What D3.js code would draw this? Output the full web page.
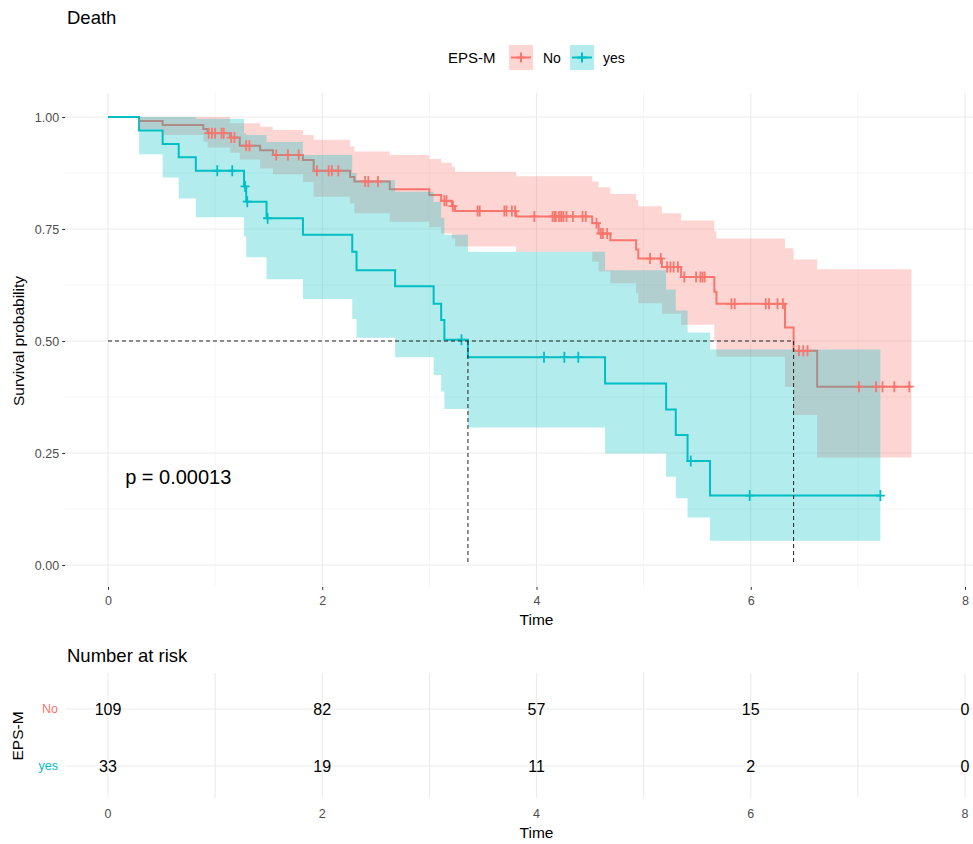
<!DOCTYPE html>
<html>
<head>
<meta charset="utf-8">
<style>
  body { margin: 0; background: #fff; }
  svg { display: block; font-family: 'Liberation Sans', Arial, sans-serif; }
  .grid-major { stroke: #ebebeb; stroke-width: 1.1px; }
  .grid-minor { stroke: #f0f0f0; stroke-width: 0.7px; }
  .axis .domain { display: none; }
  .axis .tick line { stroke: #333; }
  .axis .tick text { fill: #4d4d4d; font-size: 12.5px; font-family: 'Liberation Sans', Arial, sans-serif; }
</style>
</head>
<body>
<svg width="973" height="844"></svg>
<script src="https://d3js.org/d3.v7.min.js"></script>
<script>
// ---- data ----
const groups = ["No", "yes"];
const colors = ["#F8766D", "#00BFC4"];

const noTime  = [0, 0.29, 0.51, 0.89, 0.93, 1.14, 1.23, 1.42, 1.54, 1.82, 1.92, 2.26, 2.30, 2.63, 3.00, 3.11, 3.21, 3.24, 3.81, 4.52, 4.58, 4.69, 4.93, 4.95, 5.17, 5.35, 5.66, 5.68, 6.32, 6.40, 6.62, 7.50];
const noSurv  = [1, 0.991, 0.982, 0.973, 0.964, 0.954, 0.936, 0.926, 0.915, 0.904, 0.880, 0.866, 0.856, 0.839, 0.826, 0.813, 0.801, 0.790, 0.778, 0.763, 0.740, 0.725, 0.704, 0.684, 0.665, 0.643, 0.610, 0.583, 0.530, 0.478, 0.398, 0.398];
const noUpper = [1, 1, 1, 1, 1, 0.986, 0.986, 0.978, 0.971, 0.960, 0.949, 0.934, 0.923, 0.915, 0.906, 0.898, 0.889, 0.878, 0.868, 0.856, 0.843, 0.828, 0.815, 0.801, 0.785, 0.769, 0.745, 0.729, 0.707, 0.682, 0.660, 0.660];
const noLower = [1, 0.973, 0.960, 0.945, 0.932, 0.920, 0.905, 0.885, 0.872, 0.855, 0.822, 0.807, 0.785, 0.766, 0.754, 0.740, 0.729, 0.711, 0.699, 0.677, 0.655, 0.629, 0.606, 0.584, 0.561, 0.536, 0.500, 0.465, 0.398, 0.335, 0.240, 0.240];
const noCensor = [0.94, 0.97, 1.00, 1.06, 1.08, 1.15, 1.18, 1.29, 1.32, 1.57, 1.68, 1.78, 1.95, 2.06, 2.09, 2.15, 2.40, 2.43, 2.52, 3.14, 3.16, 3.22, 3.45, 3.47, 3.70, 3.72, 3.77, 3.80, 3.98, 4.15, 4.17, 4.18, 4.21, 4.23, 4.25, 4.28, 4.34, 4.43, 4.46, 4.56, 4.60, 4.62, 4.66, 5.06, 5.16, 5.22, 5.25, 5.28, 5.32, 5.38, 5.49, 5.53, 5.55, 5.57, 5.82, 5.85, 6.14, 6.17, 6.25, 6.30, 6.45, 6.49, 6.53, 7.01, 7.17, 7.23, 7.34, 7.48];

const yesTime  = [0, 0.29, 0.51, 0.66, 0.82, 1.27, 1.29, 1.48, 1.82, 2.28, 2.32, 2.68, 3.04, 3.11, 3.14, 3.36, 4.64, 5.21, 5.30, 5.41, 5.62, 7.21];
const yesSurv  = [1, 0.970, 0.940, 0.910, 0.880, 0.845, 0.811, 0.774, 0.737, 0.699, 0.658, 0.622, 0.583, 0.547, 0.503, 0.464, 0.405, 0.347, 0.290, 0.232, 0.155, 0.155];
const yesUpper = [1, 1, 1, 1, 0.996, 0.964, 0.960, 0.944, 0.915, 0.875, 0.859, 0.833, 0.810, 0.775, 0.737, 0.699, 0.658, 0.615, 0.568, 0.519, 0.481, 0.481];
const yesLower = [1, 0.917, 0.865, 0.818, 0.776, 0.733, 0.687, 0.638, 0.594, 0.549, 0.507, 0.464, 0.424, 0.387, 0.348, 0.307, 0.249, 0.197, 0.149, 0.106, 0.054, 0.054];
const yesCensor = [1.02, 1.16, 1.28, 1.30, 1.49, 3.30, 4.07, 4.26, 4.39, 5.44, 5.99, 7.21];

const medians = [3.36, 6.40];
const pLabel = "p = 0.00013";
const pPos = [0.16, 0.196];

const xTicks = [0, 2, 4, 6, 8];
const xMinor = [1, 3, 5, 7];
const yTicks = [0, 0.25, 0.5, 0.75, 1];
const yMinor = [0.125, 0.375, 0.625, 0.875];

const riskTimes = [0, 2, 4, 6, 8];
const riskNo  = [109, 82, 57, 15, 0];
const riskYes = [33, 19, 11, 2, 0];

// ---- scales ----
let svg = d3.select("svg");
let W = 973;

let x = d3.scaleLinear().domain([0, 8]).range([108, 965]);
let y = d3.scaleLinear().domain([0, 1]).range([565, 117]);
let panelLeft = x(-0.4), panelTop = y(1.054), panelBottom = y(-0.049);

// title
svg.append("text").attr("x", 67).attr("y", 24).text("Death")
    .style("font-size", "18.5px").style("fill", "#000");

// legend
let legend = svg.append("g");
legend.append("text").attr("x", 448).attr("y", 63).text("EPS-M").style("font-size", "15px").style("fill", "#000");
let keyX = [509, 570];
let keyLab = [543, 603];
groups.forEach(function (g, i) {
    let k = legend.append("g").attr("transform", `translate(${keyX[i]},45)`);
    k.append("rect").attr("width", 24).attr("height", 25).style("fill", colors[i]).style("opacity", 0.3);
    k.append("line").attr("x1", 2).attr("x2", 22).attr("y1", 12.5).attr("y2", 12.5).style("stroke", colors[i]).style("stroke-width", 2);
    k.append("path").attr("d", "M7.5,12.5H16.5M12,7.5V17.5").style("stroke", colors[i]).style("stroke-width", 2);
    legend.append("text").attr("x", keyLab[i]).attr("y", 63).text(g).style("font-size", "14px").style("fill", "#000");
});

// grid
let grid = svg.append("g");
grid.selectAll(".ymin").data(yMinor).join("line").attr("class", "grid-minor")
    .attr("x1", panelLeft).attr("x2", W).attr("y1", d => y(d)).attr("y2", d => y(d));
grid.selectAll(".xmin").data(xMinor).join("line").attr("class", "grid-minor")
    .attr("x1", d => x(d)).attr("x2", d => x(d)).attr("y1", panelTop).attr("y2", panelBottom);
grid.selectAll(".ymaj").data(yTicks).join("line").attr("class", "grid-major")
    .attr("x1", panelLeft).attr("x2", W).attr("y1", d => y(d)).attr("y2", d => y(d));
grid.selectAll(".xmaj").data(xTicks).join("line").attr("class", "grid-major")
    .attr("x1", d => x(d)).attr("x2", d => x(d)).attr("y1", panelTop).attr("y2", panelBottom);

// curves
let curves = [
    { time: noTime, surv: noSurv, up: noUpper, lo: noLower, cens: noCensor },
    { time: yesTime, surv: yesSurv, up: yesUpper, lo: yesLower, cens: yesCensor }
];
curves.forEach(c => { c.pts = c.time.map((t, i) => ({ t: t, s: c.surv[i], hi: c.up[i], lo: c.lo[i] })); });

let line = d3.line().curve(d3.curveStepAfter).x(d => x(d.t)).y(d => y(d.s));
let band = d3.area().curve(d3.curveStepAfter).x(d => x(d.t)).y0(d => y(d.lo)).y1(d => y(d.hi));

svg.append("g").selectAll("path").data(curves).join("path")
    .attr("d", d => line(d.pts))
    .style("fill", "none")
    .style("stroke", (d, i) => colors[i])
    .style("stroke-width", 2);

svg.append("g").selectAll("path").data(curves).join("path")
    .attr("d", d => band(d.pts))
    .style("fill", (d, i) => colors[i])
    .style("opacity", 0.3);

// censor marks
curves.forEach(function (c, i) {
    svg.append("g").selectAll("path").data(c.cens).join("path")
        .attr("d", function (t) {
            let s = c.surv[d3.bisectRight(c.time, t) - 1];
            let px = x(t), py = y(s);
            return `M${px - 4.5},${py}H${px + 4.5}M${px},${py - 5.5}V${py + 5.5}`;
        })
        .style("stroke", colors[i])
        .style("stroke-width", 1.8)
        .style("fill", "none");
});

// median lines
let med = svg.append("g").style("stroke", "#222").style("stroke-width", 1).style("stroke-dasharray", "4,3");
med.append("line").attr("x1", x(0)).attr("x2", x(d3.max(medians))).attr("y1", y(0.5)).attr("y2", y(0.5));
med.selectAll(".v").data(medians).join("line")
    .attr("x1", d => x(d)).attr("x2", d => x(d)).attr("y1", y(0.5)).attr("y2", y(0));

// p value
svg.append("text").attr("x", x(pPos[0])).attr("y", y(pPos[1])).attr("dy", "0.35em")
    .text(pLabel).style("font-size", "20px").style("fill", "#000");

// axes
svg.append("g").attr("class", "axis").attr("transform", `translate(${panelLeft},0)`)
    .call(d3.axisLeft(y).tickValues(yTicks).tickFormat(d3.format(".2f")).tickSize(3).tickPadding(3));
svg.append("g").attr("class", "axis").attr("transform", `translate(0,${panelBottom})`)
    .call(d3.axisBottom(x).tickValues(xTicks).tickSize(3).tickPadding(6));

svg.append("text").attr("x", x(4)).attr("y", 625).attr("text-anchor", "middle")
    .text("Time").style("font-size", "15.5px").style("fill", "#000");
svg.append("text").attr("transform", "translate(24,341) rotate(-90)").attr("text-anchor", "middle")
    .text("Survival probability").style("font-size", "15.5px").style("fill", "#000");

// ---- risk table ----
let risk = svg.append("g");
let yr = d3.scalePoint().domain(groups).range([709, 766]);
let rTop = 673, rBottom = 798;

risk.append("text").attr("x", 67).attr("y", 662).text("Number at risk")
    .style("font-size", "18.5px").style("fill", "#000");

risk.selectAll(".rxmin").data(xMinor).join("line").attr("class", "grid-major")
    .attr("x1", d => x(d)).attr("x2", d => x(d)).attr("y1", rTop).attr("y2", rBottom);
risk.selectAll(".rxmaj").data(xTicks).join("line").attr("class", "grid-major")
    .attr("x1", d => x(d)).attr("x2", d => x(d)).attr("y1", rTop).attr("y2", rBottom);
risk.selectAll(".ry").data(groups).join("line").attr("class", "grid-major")
    .attr("x1", panelLeft).attr("x2", W).attr("y1", d => yr(d)).attr("y2", d => yr(d));

[riskNo, riskYes].forEach(function (vals, gi) {
    risk.append("g").selectAll("text").data(vals).join("text")
        .attr("x", (d, i) => x(riskTimes[i]))
        .attr("y", yr(groups[gi]))
        .attr("dy", "0.35em")
        .attr("text-anchor", "middle")
        .text(d => d)
        .style("font-size", "16px")
        .style("fill", "#000");
});

risk.selectAll(".rlab").data(groups).join("text")
    .attr("x", 58).attr("y", d => yr(d)).attr("dy", "0.35em").attr("text-anchor", "end")
    .text(d => d)
    .style("font-size", "12.5px")
    .style("fill", (d, i) => colors[i]);

risk.selectAll(".rtick").data(xTicks).join("text")
    .attr("x", d => x(d)).attr("y", 818).attr("text-anchor", "middle")
    .text(d => d).style("font-size", "12.5px").style("fill", "#4d4d4d");

risk.append("text").attr("x", x(4)).attr("y", 838).attr("text-anchor", "middle")
    .text("Time").style("font-size", "15.5px").style("fill", "#000");
risk.append("text").attr("transform", "translate(23,736) rotate(-90)").attr("text-anchor", "middle")
    .text("EPS-M").style("font-size", "15.5px").style("fill", "#000");
</script>
</body>
</html>
